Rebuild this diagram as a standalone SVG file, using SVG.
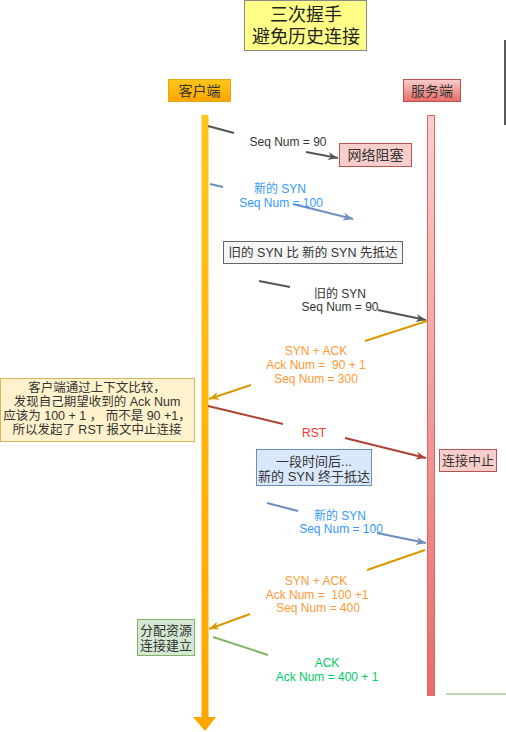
<svg xmlns="http://www.w3.org/2000/svg" width="506" height="732" viewBox="0 0 506 732">
<style>
text{font-family:"Liberation Sans","Noto Sans CJK SC",sans-serif;text-anchor:middle;dominant-baseline:central;white-space:pre}
.lbl{font-size:12px}
.cj{font-size:14px;fill:#333}
.note{font-size:12.5px;fill:#333}
.gray{stroke:#555;stroke-width:2;fill:none}
.blue{stroke:#6c8ebf;stroke-width:2;fill:none}
.org{stroke:#d79b00;stroke-width:2;fill:none}
.red{stroke:#ae4132;stroke-width:2;fill:none}
.grn{stroke:#82b366;stroke-width:2;fill:none}
</style>
<defs>
<linearGradient id="gc" x1="0" y1="0" x2="0" y2="1"><stop offset="0" stop-color="#ffc61a"/><stop offset="1" stop-color="#ffa500"/></linearGradient>
<linearGradient id="gs" x1="0" y1="0" x2="0" y2="1"><stop offset="0" stop-color="#f8cecc"/><stop offset="1" stop-color="#ea6b66"/></linearGradient>
<marker id="mg" markerWidth="12" markerHeight="10" refX="10" refY="4" orient="auto" markerUnits="userSpaceOnUse"><path d="M0,0 L10,4 L0,8 L3,4 z" fill="#555"/></marker>
<marker id="mb" markerWidth="12" markerHeight="10" refX="10" refY="4" orient="auto" markerUnits="userSpaceOnUse"><path d="M0,0 L10,4 L0,8 L3,4 z" fill="#6c8ebf"/></marker>
<marker id="mo" markerWidth="12" markerHeight="10" refX="10" refY="4" orient="auto" markerUnits="userSpaceOnUse"><path d="M0,0 L10,4 L0,8 L3,4 z" fill="#d79b00"/></marker>
<marker id="mr" markerWidth="12" markerHeight="10" refX="10" refY="4" orient="auto" markerUnits="userSpaceOnUse"><path d="M0,0 L10,4 L0,8 L3,4 z" fill="#ae4132"/></marker>
</defs>
<rect width="506" height="732" fill="#fff"/>
<line x1="505" y1="40" x2="505" y2="125" stroke="#222" stroke-width="1.5"/>
<line x1="446" y1="694" x2="506" y2="694" stroke="#82b366" stroke-width="1"/>

<g id="title">
<rect x="244.5" y="0.5" width="122" height="50" fill="#ffff88" stroke="#888"/>
<text x="306" y="15" style="font-size:18px;fill:#222">三次握手</text>
<text x="306" y="37" style="font-size:18px;fill:#222">避免历史连接</text>
</g>
<g id="client">
<rect x="168.5" y="79.5" width="62" height="22" fill="url(#gc)" stroke="#d79b00" stroke-width="0.8"/>
<text x="199.5" y="91" class="cj">客户端</text>
<rect x="201.5" y="115" width="7" height="603" fill="url(#gc)"/>
<path d="M193,717 L216,717 L205,731 z" fill="#ffa500"/>
</g>
<g id="server">
<rect x="403.5" y="79.5" width="57" height="22" fill="url(#gs)" stroke="#b85450"/>
<text x="432" y="91" class="cj">服务端</text>
<rect x="427.5" y="115.5" width="7" height="580" fill="url(#gs)" stroke="#d66"/>
</g>
<g id="blocked">
<rect x="339.5" y="143.5" width="72" height="23" fill="#f8cecc" stroke="#b85450"/>
<text x="375.5" y="155" class="cj">网络阻塞</text>
</g>
<g id="early">
<rect x="223.5" y="241.5" width="179" height="22" fill="#f5f5f5" stroke="#666"/>
<text x="313" y="252.5" class="note">旧的 SYN 比 新的 SYN 先抵达</text>
</g>
<g id="note">
<rect x="0.5" y="378.5" width="194" height="63" fill="#fff2cc" stroke="#d6b656"/>
<text x="97" y="388" class="note">客户端通过上下文比较，</text>
<text x="97" y="402" class="note">发现自己期望收到的 Ack Num</text>
<text x="97" y="416" class="note">应该为 100 + 1 ， 而不是 90 +1，</text>
<text x="97" y="430" class="note">所以发起了 RST 报文中止连接</text>
</g>
<g id="abort">
<rect x="439.5" y="449.5" width="57" height="22" fill="#f8cecc" stroke="#b85450"/>
<text x="468" y="460.5" class="note" style="font-size:13px">连接中止</text>
</g>
<g id="later">
<rect x="256.5" y="449.5" width="115" height="36" fill="#dae8fc" stroke="#6c8ebf"/>
<text x="314" y="461" class="note" style="font-size:13px">一段时间后...</text>
<text x="314" y="476" class="note" style="font-size:13px">新的 SYN 终于抵达</text>
</g>
<g id="established">
<rect x="137.5" y="619.5" width="57" height="36" fill="#d5e8d4" stroke="#82b366"/>
<text x="166" y="630" class="note" style="font-size:13px">分配资源</text>
<text x="166" y="645" class="note" style="font-size:13px">连接建立</text>
</g>

<g id="connectors">
<line class="gray" x1="208" y1="126" x2="234" y2="133"/>
<line class="gray" x1="306" y1="152" x2="338" y2="158" marker-end="url(#mg)"/>
<text x="288" y="142" class="lbl" fill="#333">Seq Num = 90</text>

<line class="blue" x1="210" y1="184" x2="223" y2="187"/>
<line class="blue" x1="293" y1="204" x2="353" y2="219" marker-end="url(#mb)"/>
<text x="280" y="189" class="lbl" fill="#3399ff">新的 SYN</text>
<text x="281" y="203" class="lbl" fill="#3399ff">Seq Num = 100</text>

<line class="gray" x1="259" y1="281" x2="290" y2="287"/>
<line class="gray" x1="378" y1="310" x2="426" y2="320" marker-end="url(#mg)"/>
<text x="340" y="294" class="lbl" fill="#333">旧的 SYN</text>
<text x="340" y="307" class="lbl" fill="#333">Seq Num = 90</text>

<line class="org" x1="427" y1="321" x2="365" y2="341"/>
<line class="org" x1="251" y1="385" x2="209" y2="399" marker-end="url(#mo)"/>
<text x="316" y="351" class="lbl" fill="#ff9933">SYN + ACK</text>
<text x="316" y="365" class="lbl" fill="#ff9933">Ack Num =  90 + 1</text>
<text x="316" y="379" class="lbl" fill="#ff9933">Seq Num = 300</text>

<line class="red" x1="208" y1="406" x2="283" y2="424"/>
<line class="red" x1="345" y1="438" x2="426" y2="458" marker-end="url(#mr)"/>
<text x="314" y="433" class="lbl" fill="#ff3333">RST</text>

<line class="blue" x1="267" y1="503" x2="298" y2="511"/>
<line class="blue" x1="377" y1="533" x2="426" y2="543" marker-end="url(#mb)"/>
<text x="340" y="516" class="lbl" fill="#3399ff">新的 SYN</text>
<text x="341" y="529" class="lbl" fill="#3399ff">Seq Num = 100</text>

<line class="org" x1="425" y1="550" x2="367" y2="570"/>
<line class="org" x1="250" y1="614" x2="209" y2="629" marker-end="url(#mo)"/>
<text x="316" y="581" class="lbl" fill="#ff9933">SYN + ACK</text>
<text x="317" y="595" class="lbl" fill="#ff9933">Ack Num =  100 +1</text>
<text x="318" y="608" class="lbl" fill="#ff9933">Seq Num = 400</text>

<line class="grn" x1="213" y1="637" x2="268" y2="655"/>
<text x="327" y="663" class="lbl" fill="#00cc66">ACK</text>
<text x="327" y="677" class="lbl" fill="#00cc66">Ack Num = 400 + 1</text>
</g>
</svg>
